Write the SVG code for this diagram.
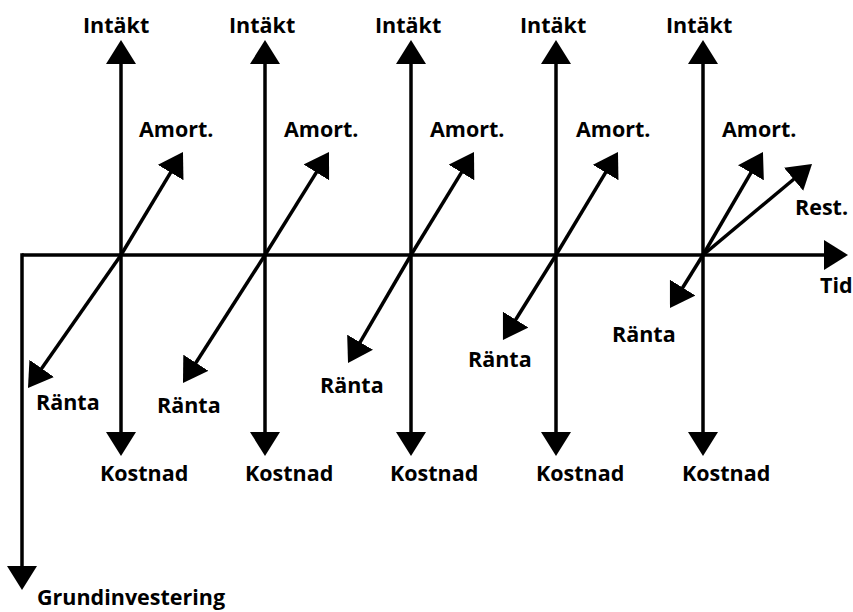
<svg xmlns="http://www.w3.org/2000/svg" width="853" height="612" viewBox="0 0 853 612">
<style>
.ln{stroke:#000;stroke-width:3.5;fill:none}
.ar{marker-end:url(#ah)}
text{font-family:"Open Sans","Noto Sans","Liberation Sans",sans-serif;font-weight:bold;font-size:21.5px;fill:#000}
</style>
<defs>
<marker id="ah" markerUnits="userSpaceOnUse" markerWidth="24" markerHeight="30" refX="6" refY="15" orient="auto" viewBox="0 0 24 30">
<path d="M0,0 L24,15 L0,30 z" fill="#000"/>
</marker>
</defs>
<rect width="853" height="612" fill="#fff"/>
<g id="connectors">
<line class="ln ar" x1="22" y1="255" x2="830" y2="255"/>
<line class="ln ar" x1="22" y1="253.25" x2="22" y2="572"/>
<line class="ln ar" x1="121" y1="255" x2="121" y2="58"/>
<line class="ln ar" x1="121" y1="255" x2="121" y2="438"/>
<line class="ln ar" x1="265" y1="255" x2="265" y2="58"/>
<line class="ln ar" x1="265" y1="255" x2="265" y2="438"/>
<line class="ln ar" x1="411" y1="255" x2="411" y2="58"/>
<line class="ln ar" x1="411" y1="255" x2="411" y2="438"/>
<line class="ln ar" x1="556" y1="255" x2="556" y2="58"/>
<line class="ln ar" x1="556" y1="255" x2="556" y2="438"/>
<line class="ln ar" x1="703" y1="255" x2="703" y2="58"/>
<line class="ln ar" x1="703" y1="255" x2="703" y2="438"/>
<line class="ln ar" x1="121" y1="255" x2="173.7" y2="167.4"/>
<line class="ln ar" x1="121" y1="255" x2="38.3" y2="373.3"/>
<line class="ln ar" x1="265" y1="255" x2="319.5" y2="167.3"/>
<line class="ln ar" x1="265" y1="255" x2="192.7" y2="367.8"/>
<line class="ln ar" x1="411" y1="255" x2="464.6" y2="167.4"/>
<line class="ln ar" x1="411" y1="255" x2="357.1" y2="347.4"/>
<line class="ln ar" x1="556" y1="255" x2="608.7" y2="167.4"/>
<line class="ln ar" x1="556" y1="255" x2="512.5" y2="324.7"/>
<line class="ln ar" x1="703" y1="255" x2="753.9" y2="167.6"/>
<line class="ln ar" x1="703" y1="255" x2="798.2" y2="175.5"/>
<line class="ln ar" x1="703" y1="255" x2="679.5" y2="292.7"/>
</g>
<g id="period1">
<text x="83" y="33">Intäkt</text>
<text x="139" y="137">Amort.</text>
<text x="100" y="481">Kostnad</text>
<text x="36" y="410">Ränta</text>
</g>
<g id="period2">
<text x="229" y="33">Intäkt</text>
<text x="284" y="137">Amort.</text>
<text x="245" y="481">Kostnad</text>
<text x="157" y="413">Ränta</text>
</g>
<g id="period3">
<text x="375" y="33">Intäkt</text>
<text x="430" y="137">Amort.</text>
<text x="390" y="481">Kostnad</text>
<text x="320" y="393">Ränta</text>
</g>
<g id="period4">
<text x="520" y="33">Intäkt</text>
<text x="576" y="137">Amort.</text>
<text x="536" y="481">Kostnad</text>
<text x="468" y="367">Ränta</text>
</g>
<g id="period5">
<text x="666" y="33">Intäkt</text>
<text x="722" y="137">Amort.</text>
<text x="682" y="481">Kostnad</text>
<text x="612" y="342">Ränta</text>
<text x="795" y="215">Rest.</text>
</g>
<g id="axis-labels">
<text x="820" y="293">Tid</text>
<text x="37" y="605">Grundinvestering</text>
</g>
</svg>
